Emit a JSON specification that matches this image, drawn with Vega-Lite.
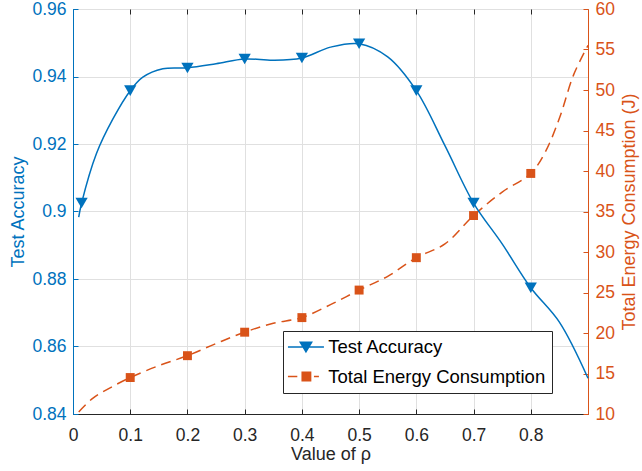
{
  "$schema": "https://vega.github.io/schema/vega-lite/v6.json",
  "width": 515,
  "height": 405,
  "autosize": {"type": "none"},
  "padding": {"left": 73, "top": 9, "right": 54, "bottom": 57},
  "config": {
    "font": "Liberation Sans",
    "view": {"stroke": "#262626", "strokeWidth": 1},
    "axis": {
      "labelFontSize": 17.5,
      "titleFontSize": 18,
      "titleFontWeight": "normal",
      "tickSize": -5,
      "tickWidth": 1,
      "domainWidth": 1,
      "gridColor": "#e0e0e0",
      "gridWidth": 1,
      "labelFlush": false,
      "labelOverlap": false
    }
  },
  "datasets": {
    "accCurve": [
      {"x": 0.01, "y": 0.8983}, {"x": 0.015, "y": 0.9025}, {"x": 0.041, "y": 0.9172}, {"x": 0.07, "y": 0.9275},
      {"x": 0.1, "y": 0.9358}, {"x": 0.122, "y": 0.9398}, {"x": 0.157, "y": 0.9423}, {"x": 0.2, "y": 0.9426},
      {"x": 0.25, "y": 0.9438}, {"x": 0.3, "y": 0.9452}, {"x": 0.35, "y": 0.9448}, {"x": 0.4, "y": 0.9455},
      {"x": 0.45, "y": 0.9487}, {"x": 0.5, "y": 0.9497}, {"x": 0.55, "y": 0.9458}, {"x": 0.6, "y": 0.9358},
      {"x": 0.65, "y": 0.9195}, {"x": 0.7, "y": 0.9025}, {"x": 0.75, "y": 0.8904}, {"x": 0.8, "y": 0.8774},
      {"x": 0.85, "y": 0.8672}, {"x": 0.9, "y": 0.8506}
    ],
    "accPts": [
      {"x": 0.015, "y": 0.9025}, {"x": 0.1, "y": 0.9358}, {"x": 0.2, "y": 0.9425}, {"x": 0.3, "y": 0.9452},
      {"x": 0.4, "y": 0.9455}, {"x": 0.5, "y": 0.9497}, {"x": 0.6, "y": 0.9358}, {"x": 0.7, "y": 0.9025},
      {"x": 0.8, "y": 0.8774}
    ],
    "enCurve": [
      {"x": 0.01, "y": 10.25}, {"x": 0.035, "y": 11.97}, {"x": 0.064, "y": 13.2}, {"x": 0.1, "y": 14.5},
      {"x": 0.15, "y": 15.97}, {"x": 0.2, "y": 17.2}, {"x": 0.25, "y": 18.7}, {"x": 0.3, "y": 20.1},
      {"x": 0.35, "y": 21.2}, {"x": 0.4, "y": 21.9}, {"x": 0.45, "y": 23.5}, {"x": 0.5, "y": 25.3},
      {"x": 0.55, "y": 27.0}, {"x": 0.6, "y": 29.3}, {"x": 0.65, "y": 31.0}, {"x": 0.7, "y": 34.5},
      {"x": 0.75, "y": 37.4}, {"x": 0.8, "y": 39.7}, {"x": 0.825, "y": 42.3}, {"x": 0.85, "y": 46.5},
      {"x": 0.875, "y": 51.9}, {"x": 0.9, "y": 55.5}
    ],
    "enPts": [
      {"x": 0.1, "y": 14.5}, {"x": 0.2, "y": 17.2}, {"x": 0.3, "y": 20.1}, {"x": 0.4, "y": 21.9},
      {"x": 0.5, "y": 25.3}, {"x": 0.6, "y": 29.3}, {"x": 0.7, "y": 34.5}, {"x": 0.8, "y": 39.7}
    ],
    "legendRows": []
  },
  "layer": [
    {
      "encoding": {
        "x": {
          "field": "x", "type": "quantitative",
          "scale": {"domain": [0, 0.9], "nice": false, "zero": false},
          "axis": {"orient": "top", "labels": false, "title": null, "grid": false, "domain": false,
                   "values": [0, 0.1, 0.2, 0.3, 0.4, 0.5, 0.6, 0.7, 0.8], "tickColor": "#262626"}
        },
        "y": {
          "field": "y", "type": "quantitative",
          "scale": {"domain": [10, 60], "nice": false, "zero": false},
          "axis": {
            "orient": "right", "title": "Total Energy Consumption (J)", "grid": false,
            "values": [10, 15, 20, 25, 30, 35, 40, 45, 50, 55, 60],
            "domainColor": "#D95319", "tickColor": "#D95319", "labelColor": "#D95319", "titleColor": "#D95319",
            "labelPadding": 12, "titleAngle": -90, "titleBaseline": "top", "titlePadding": 6
          }
        }
      },
      "layer": [
        {
          "data": {"name": "enCurve"},
          "mark": {"type": "line", "color": "#D95319", "strokeWidth": 1.5, "strokeDash": [10, 6], "interpolate": "catmull-rom"}
        },
        {
          "data": {"name": "enPts"},
          "mark": {"type": "point", "shape": "square", "filled": true, "size": 80, "opacity": 1, "color": "#D95319"}
        }
      ]
    },
    {
      "encoding": {
        "x": {
          "field": "x", "type": "quantitative",
          "scale": {"domain": [0, 0.9], "nice": false, "zero": false},
          "axis": {
            "orient": "bottom", "title": "Value of ρ", "grid": true, "format": "~g",
            "values": [0, 0.1, 0.2, 0.3, 0.4, 0.5, 0.6, 0.7, 0.8],
            "domainColor": "#262626", "tickColor": "#262626", "labelColor": "#262626", "titleColor": "#262626",
            "labelPadding": 17, "titlePadding": 2
          }
        },
        "y": {
          "field": "y", "type": "quantitative",
          "scale": {"domain": [0.84, 0.96], "nice": false, "zero": false},
          "axis": {
            "orient": "left", "title": "Test Accuracy", "grid": true, "format": "~g",
            "values": [0.84, 0.86, 0.88, 0.9, 0.92, 0.94, 0.96],
            "domainColor": "#0072BD", "tickColor": "#0072BD", "labelColor": "#0072BD", "titleColor": "#0072BD",
            "labelPadding": 12, "titlePadding": 4
          }
        }
      },
      "layer": [
        {
          "data": {"name": "accCurve"},
          "mark": {"type": "line", "color": "#0072BD", "strokeWidth": 1.5, "interpolate": "catmull-rom"}
        },
        {
          "data": {"name": "accPts"},
          "mark": {"type": "point", "shape": "triangle-down", "filled": true, "size": 150, "opacity": 1, "color": "#0072BD"}
        },
        {
          "data": {"name": "legendRows"},
          "mark": {"type": "point", "filled": true, "opacity": 1},
          "encoding": {
            "color": {
              "field": "s", "type": "nominal",
              "scale": {"domain": ["Test Accuracy", "Total Energy Consumption"], "range": ["#0072BD", "#D95319"]},
              "legend": {
                "orient": "none", "legendX": 210, "legendY": 322, "title": null,
                "labelFontSize": 18.5, "labelColor": "#000000", "labelFont": "Liberation Sans", "labelLimit": 400,
                "padding": 6.7, "rowPadding": 10.6, "symbolOffset": 7, "labelOffset": 13,
                "strokeColor": "#262626", "fillColor": "#ffffff", "symbolSize": 324, "symbolOpacity": 1, "symbolStrokeWidth": 0
              }
            },
            "shape": {
              "field": "s", "type": "nominal",
              "scale": {
                "domain": ["Test Accuracy", "Total Energy Consumption"],
                "range": [
                  "M-2,-0.09H2V0.09H-2ZM-0.78,-0.6L0.78,-0.6L0,0.7Z",
                  "M-2,-0.09H-0.96V0.09H-2ZM-0.5,-0.56H0.6V0.56H-0.5ZM0.89,-0.09H1.44V0.09H0.89Z"
                ]
              },
              "legend": {
                "orient": "none", "legendX": 210, "legendY": 322, "title": null,
                "labelFontSize": 18.5, "labelColor": "#000000", "labelFont": "Liberation Sans", "labelLimit": 400,
                "padding": 6.7, "rowPadding": 10.6, "symbolOffset": 7, "labelOffset": 13,
                "strokeColor": "#262626", "fillColor": "#ffffff", "symbolSize": 324, "symbolOpacity": 1, "symbolStrokeWidth": 0
              }
            }
          }
        }
      ]
    }
  ],
  "resolve": {"scale": {"y": "independent"}, "axis": {"x": "independent"}}
}
